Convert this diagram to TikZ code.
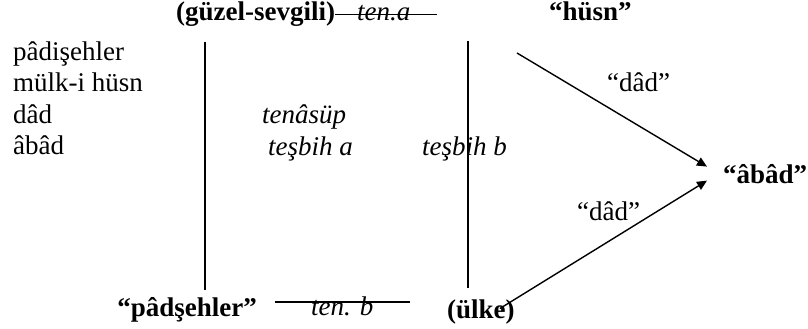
\documentclass[tikz,border=0pt]{standalone}
\usepackage{fontspec}
\setmainfont{Liberation Serif}
\usetikzlibrary{arrows.meta, positioning, calc}
\tikzset{
    plain/.style={inner sep=0pt, font=\fontsize{27}{31}\selectfont},
    term/.style={inner sep=0pt, font=\fontsize{27}{31}\selectfont\bfseries},
    relit/.style={inner sep=0pt, font=\fontsize{27}{31}\selectfont\itshape},
    rule/.style={line width=1.4pt, draw=black},
    pillar/.style={line width=1.8pt, draw=black},
    arrow/.style={-{Triangle[length=10pt,width=9pt]}, line width=1.4pt, draw=black},
}

\begin{document}
\begin{tikzpicture}[x=1pt, y=-1pt]
        \useasboundingbox (0,0) rectangle (808,329);
        % word list
        \node[plain, anchor=base west] (w1) at (13,61) {pâdişehler};
        \node[plain, anchor=base west] (w2) at (13,92) {mülk-i hüsn};
        \node[plain, anchor=base west] (w3) at (13,123) {dâd};
        \node[plain, anchor=base west] (w4) at (13,154) {âbâd};
        % terms
        \node[term, anchor=base west] (gs) at (176,21) {(güzel-sevgili)};
        \node[term, anchor=base west] (husn) at (549,21) {“hüsn”};
        \node[term, anchor=base east] (pad) at (257,316) {“pâdşehler”};
        \node[term, anchor=base west] (ulke) at (447,318) {(ülke)};
        \node[term, anchor=base west] (abad) at (723,183) {“âbâd”};
        % relations
        \node[relit, anchor=base west] (tena) at (357,21) {ten.a};
        \node[relit, anchor=base west] (tenb) at (311,315) {ten. b};
        \node[relit, anchor=base west] (tens) at (262,123) {tenâsüp};
        \node[relit, anchor=base west] (tsa) at (268,155) {teşbih a};
        \node[relit, anchor=base west] (tsb) at (422,155) {teşbih b};
        \node[plain, anchor=base west] (dad1) at (607,92) {“dâd”};
        \node[plain, anchor=base west] (dad2) at (577,220) {“dâd”};
        % free ends
        \coordinate (taR) at (437,15);
        \coordinate (tbL) at (275,302);
        \coordinate (tbR) at (410,302);
        \coordinate (lt) at (205,42);
        \coordinate (lb) at (205,290);
        \coordinate (rt) at (468,41);
        \coordinate (rb) at (468,288);
        \coordinate (hs) at (517,53);
        \draw[rule] (gs.east) -- (gs.east -| taR);
        \draw[rule] (tbL) -- (tbR);
        \draw[pillar] (lt) -- (lb);
        \draw[pillar] (rt) -- (rb);
        \draw[arrow] (hs) -- ([shift={(-16,-7)}]abad.west);
        \draw[arrow] ([shift={(-15,-3)}]ulke.east) -- ([shift={(-16,7)}]abad.west);
    \end{tikzpicture}
\end{document}
